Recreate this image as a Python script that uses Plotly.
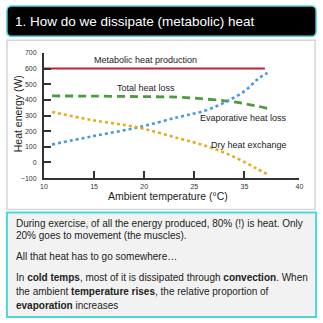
import plotly.graph_objects as go

W = H = 323

# Ambient temperature positions (axis units) and heat flows (W)
temp = [10.8, 14.8, 19.3, 23.4, 26.2, 28.4, 30.1, 31.3, 32.3]
metabolic_x = [10.0, 32.05]
metabolic = [600, 600]
total_loss = [425, 424, 421, 417, 405, 392, 375, 360, 346]
evaporative = [115, 167, 223, 290, 334, 396, 459, 531, 573]
dry = [323, 271, 225, 155, 105, 52, 0, -42, -75]

x_tickvals = [10, 15, 20, 25, 30, 35.5]
x_ticktext = ["10", "15", "20", "25", "35", "40"]
y_tickvals = [-100, 0, 100, 200, 300, 400, 500, 600, 700]

FONT = "Liberation Sans, Arial, sans-serif"
RED = "#c8232c"
GREEN = "#4b9c3c"
BLUE = "#4a98e0"
ORANGE = "#e6ac1e"
CYAN = "#4fd6da"


def px(x):
    return x / W


def py(y):
    return 1 - y / H


def rounded_rect(x0, y0, x1, y1, r):
    X0, X1 = px(x0), px(x1)
    Y0, Y1 = py(y0), py(y1)
    R = r / W
    return (f"M {X0+R},{Y0} L {X1-R},{Y0} Q {X1},{Y0} {X1},{Y0-R} "
            f"L {X1},{Y1+R} Q {X1},{Y1} {X1-R},{Y1} L {X0+R},{Y1} "
            f"Q {X0},{Y1} {X0},{Y1+R} L {X0},{Y0-R} Q {X0},{Y0} {X0+R},{Y0} Z")


fig = go.Figure()
fig.add_trace(go.Scatter(x=metabolic_x, y=metabolic, mode="lines",
                         line=dict(color=RED, width=2), hoverinfo="skip"))
fig.add_trace(go.Scatter(x=temp, y=total_loss, mode="lines",
                         line=dict(color=GREEN, width=2.8, dash="8px,5px", shape="spline"),
                         hoverinfo="skip"))
fig.add_trace(go.Scatter(x=temp, y=evaporative, mode="lines",
                         line=dict(color=BLUE, width=2.6, dash="dot", shape="spline"),
                         hoverinfo="skip"))
fig.add_trace(go.Scatter(x=temp, y=dry, mode="lines",
                         line=dict(color=ORANGE, width=2.6, dash="dot", shape="spline"),
                         hoverinfo="skip"))

shapes = [
    # chart panel
    dict(type="rect", xref="paper", yref="paper", x0=px(3), x1=px(319), y0=py(210), y1=py(37),
         line=dict(color="#d6d6d6", width=1.5), fillcolor="white", layer="below"),
    # title box
    dict(type="path", xref="paper", yref="paper", path=rounded_rect(3, 2, 320, 33, 5),
         line=dict(color=CYAN, width=1.5), fillcolor="black", layer="below"),
    # text box
    dict(type="rect", xref="paper", yref="paper", x0=px(3), x1=px(320), y0=py(320), y1=py(213),
         line=dict(color=CYAN, width=2), fillcolor="#f2f2f2", layer="below"),
]

ann = []
ann.append(dict(xref="paper", yref="paper", x=px(9), y=py(18), xanchor="left", yanchor="middle",
                text="1. How do we dissipate (metabolic) heat", showarrow=False,
                font=dict(family=FONT, size=13.5, color="white")))

# series labels
labels = [
    ("Metabolic heat production", 20.14, 652),
    ("Total heat loss", 20.2, 479),
    ("Evaporative heat loss", 29.93, 286),
    ("Dry heat exchange", 30.42, 112),
]
for t, x, y in labels:
    ann.append(dict(x=x, y=y, text=t, showarrow=False, xanchor="center", yanchor="middle",
                    font=dict(family=FONT, size=9, color="#222")))

# axis titles
ann.append(dict(xref="paper", yref="paper", x=px(14), y=py(112), text="Heat energy (W)",
                textangle=-90, showarrow=False, xanchor="center", yanchor="middle",
                font=dict(family=FONT, size=10.5, color="#222")))
ann.append(dict(xref="paper", yref="paper", x=px(168), y=py(196), text="Ambient temperature (°C)",
                showarrow=False, xanchor="center", yanchor="middle",
                font=dict(family=FONT, size=10.5, color="#222")))

# body text
body = [
    ("During exercise, of all the energy produced, 80% (!) is heat. Only", 224.3),
    ("20% goes to movement (the muscles).", 236.7),
    ("All that heat has to go somewhere…", 258.3),
    ("In <b>cold temps</b>, most of it is dissipated through <b>convection</b>. When", 280),
    ("the ambient <b>temperature rises</b>, the relative proportion of", 294),
    ("<b>evaporation</b> increases", 308),
]
for t, y in body:
    ann.append(dict(xref="paper", yref="paper", x=px(10), y=py(y), text=t, showarrow=False,
                    xanchor="left", yanchor="middle", align="left",
                    font=dict(family=FONT, size=10, color="#222")))

fig.update_layout(
    width=W, height=H, margin=dict(l=0, r=0, t=0, b=0),
    paper_bgcolor="white", plot_bgcolor="#e4e4e4",
    showlegend=False, shapes=shapes, annotations=ann,
    xaxis=dict(domain=[px(41), px(303)], range=[10, 35.5], tickmode="array",
               tickvals=x_tickvals, ticktext=x_ticktext,
               ticks="inside", ticklen=7, tickwidth=2, tickcolor="#333",
               showline=True, linewidth=2, linecolor="#333", showgrid=False, zeroline=False,
               tickfont=dict(family=FONT, size=7, color="#333")),
    yaxis=dict(domain=[py(178), py(50)], range=[-100, 700], tickmode="array", tickvals=y_tickvals,
               ticks="inside", ticklen=7, tickwidth=2, tickcolor="#333",
               showline=True, linewidth=2, linecolor="#333", showgrid=False, zeroline=False,
               ticklabelstandoff=4,
               tickfont=dict(family=FONT, size=7, color="#333")),
)

fig.write_html("out.html")
